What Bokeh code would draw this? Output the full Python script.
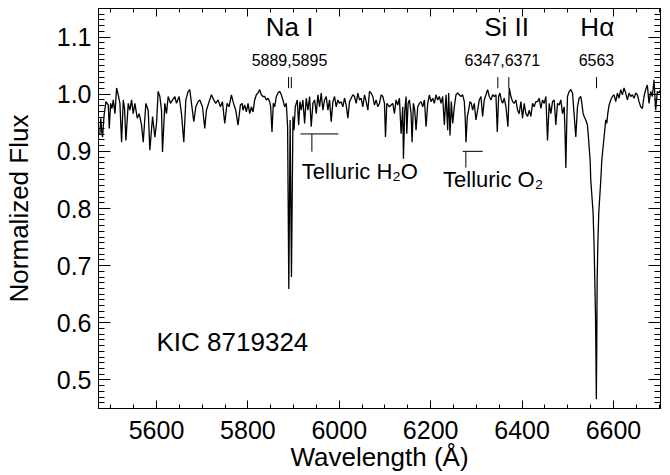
from bokeh.plotting import figure
from bokeh.models import Range1d, LinearAxis, FixedTicker, CustomJSTickFormatter, Label, PrintfTickFormatter
from bokeh.embed import file_html
from bokeh.resources import INLINE

# ---------------- data ----------------
wavelength = [
    5476.0, 5478.0, 5480.0, 5482.0, 5484.9, 5489.3, 5494.4, 5496.6, 5499.5, 5502.4,
    5505.3, 5509.0, 5512.6, 5516.2, 5519.9, 5523.5, 5527.2, 5530.0, 5533.0, 5538.1,
    5541.7, 5545.4, 5549.0, 5552.7, 5557.8, 5562.1, 5567.2, 5570.9, 5576.7, 5581.8,
    5585.4, 5591.3, 5596.4, 5600.0, 5603.6, 5607.3, 5610.9, 5613.1, 5618.2, 5621.8,
    5625.5, 5630.6, 5635.0, 5640.0, 5643.7, 5649.5, 5654.6, 5659.7, 5664.1, 5669.2,
    5672.8, 5676.5, 5681.6, 5686.0, 5691.0, 5694.7, 5700.5, 5705.6, 5709.2, 5715.1,
    5720.2, 5725.3, 5729.6, 5734.7, 5739.8, 5744.2, 5749.3, 5754.4, 5758.8, 5763.9,
    5767.5, 5773.3, 5778.4, 5783.5, 5787.5, 5789.3, 5793.0, 5796.6, 5800.3, 5803.9,
    5807.6, 5811.2, 5814.8, 5818.5, 5822.1, 5825.8, 5829.4, 5833.0, 5836.7, 5840.3,
    5844.0, 5847.6, 5849.8, 5852.7, 5855.6, 5858.5, 5862.2, 5865.8, 5869.5, 5873.1,
    5876.7, 5880.4, 5884.0, 5886.9, 5889.5, 5892.4, 5895.3, 5898.6, 5900.8, 5903.7,
    5908.1, 5911.0, 5913.9, 5916.8, 5920.4, 5924.1, 5927.7, 5931.4, 5935.0, 5938.6,
    5942.3, 5945.9, 5949.6, 5953.2, 5956.9, 5960.5, 5964.1, 5967.8, 5971.4, 5975.1,
    5978.7, 5982.3, 5986.0, 5989.6, 5993.3, 5996.9, 6000.5, 6004.2, 6007.8, 6011.5,
    6015.1, 6018.8, 6022.4, 6026.0, 6029.7, 6033.3, 6037.0, 6040.6, 6044.2, 6047.9,
    6051.5, 6055.2, 6058.8, 6062.5, 6066.1, 6069.7, 6073.4, 6077.0, 6080.7, 6084.3,
    6087.9, 6091.6, 6095.2, 6098.9, 6101.1, 6104.0, 6109.8, 6113.4, 6117.1, 6120.7,
    6124.3, 6128.0, 6131.6, 6135.3, 6138.9, 6140.4, 6143.3, 6146.2, 6147.7, 6150.6,
    6153.5, 6157.1, 6159.3, 6162.2, 6165.1, 6168.0, 6171.7, 6175.3, 6179.0, 6182.6,
    6186.3, 6189.9, 6193.5, 6197.2, 6200.8, 6204.5, 6208.1, 6211.7, 6215.4, 6219.0,
    6222.7, 6226.3, 6229.9, 6233.6, 6237.2, 6239.4, 6242.3, 6245.2, 6248.2, 6251.8,
    6255.4, 6259.1, 6262.7, 6266.4, 6270.0, 6273.6, 6275.8, 6277.3, 6280.2, 6283.1,
    6286.0, 6289.0, 6291.9, 6295.5, 6299.1, 6302.8, 6306.4, 6310.1, 6313.7, 6317.3,
    6321.0, 6324.6, 6328.3, 6331.9, 6335.6, 6339.2, 6342.8, 6345.8, 6348.7, 6351.6,
    6354.5, 6357.4, 6361.0, 6364.7, 6369.1, 6372.0, 6375.6, 6379.3, 6382.9, 6386.5,
    6390.2, 6393.8, 6397.5, 6401.1, 6404.7, 6408.4, 6412.0, 6415.7, 6419.3, 6423.0,
    6426.6, 6430.2, 6433.9, 6437.5, 6441.2, 6444.8, 6448.5, 6452.1, 6455.7, 6459.4,
    6463.0, 6466.7, 6470.3, 6473.9, 6477.6, 6481.2, 6484.9, 6488.5, 6492.2, 6494.3,
    6495.8, 6498.0, 6499.4, 6503.1, 6506.7, 6510.4, 6514.0, 6517.6, 6521.3, 6524.9,
    6528.6, 6530.8, 6533.7, 6535.9, 6539.5, 6543.1, 6545.3, 6546.8, 6549.0, 6550.4,
    6555.5, 6557.7, 6559.2, 6560.7, 6561.5, 6562.6, 6563.5, 6563.9, 6564.4, 6565.7,
    6567.9, 6572.3, 6574.5, 6577.4, 6581.0, 6583.2, 6585.4, 6587.6, 6590.5, 6594.1,
    6597.8, 6601.4, 6605.0, 6608.7, 6612.3, 6616.0, 6619.6, 6623.2, 6626.9, 6630.5,
    6634.2, 6637.8, 6641.5, 6645.1, 6648.7, 6652.4, 6656.0, 6659.7, 6663.3, 6666.9,
    6670.6, 6674.2, 6677.9, 6681.5, 6685.1, 6688.8, 6692.4, 6696.1, 6699.7, 6703.0,
]
flux = [
    0.930, 0.958, 0.935, 0.925, 0.961, 0.987, 0.981, 0.940, 0.984, 0.975,
    0.990, 0.966, 1.011, 0.999, 0.984, 0.916, 0.990, 0.975, 0.919, 0.984,
    0.972, 0.990, 0.966, 0.984, 0.958, 0.966, 0.946, 0.916, 0.984, 0.972,
    0.902, 0.961, 0.925, 0.949, 1.005, 0.996, 0.972, 0.899, 0.984, 0.966,
    0.996, 0.984, 0.990, 0.996, 0.984, 0.996, 0.966, 0.916, 0.990, 1.005,
    1.008, 0.984, 0.952, 0.978, 0.987, 0.990, 0.978, 0.940, 0.972, 0.987,
    0.999, 0.990, 0.984, 0.990, 0.978, 0.987, 0.949, 0.984, 0.978, 0.999,
    0.987, 0.972, 0.946, 0.981, 0.984, 0.972, 0.981, 0.969, 0.984, 0.966,
    0.978, 0.969, 0.990, 0.999, 1.002, 1.008, 0.999, 0.996, 0.996, 0.990,
    0.993, 0.987, 0.978, 0.934, 0.984, 0.978, 0.996, 1.002, 1.005, 0.999,
    0.990, 0.978, 0.984, 0.943, 0.659, 0.955, 0.680, 0.961, 0.937, 0.978,
    0.990, 0.946, 0.987, 0.972, 0.990, 0.949, 0.993, 0.972, 0.996, 0.943,
    0.984, 0.990, 0.966, 0.999, 0.978, 1.002, 0.972, 0.990, 0.996, 0.972,
    0.990, 0.952, 0.987, 0.996, 0.978, 0.990, 0.984, 0.987, 0.978, 0.993,
    0.981, 0.958, 0.987, 0.993, 0.999, 0.996, 0.984, 1.002, 0.990, 0.993,
    0.978, 0.999, 0.987, 0.972, 1.005, 1.002, 0.996, 0.981, 0.990, 0.978,
    0.984, 0.999, 0.996, 0.984, 0.925, 0.984, 0.978, 0.981, 0.984, 0.966,
    0.990, 0.981, 0.993, 0.931, 0.978, 0.887, 0.972, 0.996, 0.931, 0.984,
    0.990, 0.966, 0.916, 0.984, 0.972, 0.937, 0.978, 0.984, 0.987, 0.978,
    0.990, 0.943, 0.984, 0.999, 0.987, 0.993, 0.984, 0.999, 0.990, 0.996,
    0.984, 0.996, 0.946, 0.999, 0.937, 1.002, 0.928, 0.987, 0.949, 0.978,
    0.999, 1.002, 0.999, 0.996, 0.999, 0.987, 0.955, 0.916, 0.961, 0.972,
    0.987, 0.984, 0.972, 0.984, 0.955, 0.972, 0.990, 0.996, 0.961, 0.990,
    0.999, 1.008, 0.996, 0.990, 0.999, 0.996, 0.999, 0.934, 0.996, 1.002,
    0.990, 0.984, 0.993, 0.978, 0.943, 1.011, 0.996, 0.987, 0.984, 0.990,
    0.972, 0.966, 0.987, 0.958, 0.984, 0.966, 0.961, 0.972, 0.961, 0.984,
    0.978, 0.987, 0.987, 0.993, 0.975, 0.990, 0.984, 0.996, 0.919, 0.984,
    0.966, 0.987, 0.990, 0.946, 0.984, 0.981, 0.990, 0.966, 0.978, 0.925,
    0.871, 0.955, 0.996, 1.005, 1.008, 1.002, 0.964, 0.925, 0.978, 0.993,
    0.996, 0.984, 0.966, 0.961, 0.955, 0.946, 0.925, 0.908, 0.884, 0.850,
    0.792, 0.733, 0.675, 0.617, 0.558, 0.466, 0.558, 0.617, 0.675, 0.733,
    0.792, 0.850, 0.884, 0.908, 0.937, 0.955, 0.949, 0.966, 0.981, 0.990,
    0.996, 0.999, 0.987, 1.002, 0.993, 1.008, 0.999, 1.011, 1.002, 0.990,
    1.002, 0.996, 0.999, 0.993, 1.002, 0.999, 0.987, 0.978, 0.975, 0.996,
    1.008, 1.016, 0.984, 1.005, 0.996, 1.025, 0.972, 1.005, 1.002, 1.008,
]

x_ticks = [5600, 5800, 6000, 6200, 6400, 6600]
y_ticks = [0.5, 0.6, 0.7, 0.8, 0.9, 1.0, 1.1]

line_names = ["Na I", "Si II", "H\u03b1"]
line_label_x = [5891.4, 6366.0, 6564.6]
line_wl_text = ["5889,5895", "6347,6371", "6563"]
line_wl_text_x = [5891.0, 6357.0, 6562.8]
line_marks = [5889, 5895, 6347, 6371, 6563]

object_name = "KIC 8719324"

# ---------------- figure ----------------
FONT = "Liberation Sans"
X_MIN, X_MAX = 5473, 6703
Y_MIN, Y_MAX = 0.45, 1.15

p = figure(width=670, height=475,
           x_range=Range1d(X_MIN, X_MAX), y_range=Range1d(Y_MIN, Y_MAX),
           output_backend="svg", toolbar_location=None,
           min_border_left=97, min_border_right=10,
           min_border_top=8, min_border_bottom=67)
p.xgrid.visible = False
p.ygrid.visible = False
p.outline_line_color = "black"
p.outline_line_width = 1
p.background_fill_color = "white"
p.border_fill_color = "white"

x_minor = list(range(5500, 6701, 50))
y_minor = [round(0.45 + 0.01 * i, 2) for i in range(71)]


def style_axis(ax, major_in, minor_in):
    ax.axis_line_color = "black"
    ax.axis_line_width = 1
    ax.major_tick_line_color = "black"
    ax.minor_tick_line_color = "black"
    ax.major_tick_in = major_in
    ax.major_tick_out = 0
    ax.minor_tick_in = minor_in
    ax.minor_tick_out = 0
    ax.major_label_text_font = FONT
    ax.major_label_text_color = "black"
    ax.axis_label_text_font = FONT
    ax.axis_label_text_font_style = "normal"
    ax.axis_label_text_color = "black"


xa = p.xaxis[0]
xa.ticker = FixedTicker(ticks=x_ticks, minor_ticks=x_minor)
style_axis(xa, 8, 4)
xa.major_label_text_font_size = "25px"
xa.major_label_standoff = 12
xa.axis_label = "Wavelength (\u00c5)"
xa.axis_label_text_font_size = "26px"
xa.axis_label_standoff = 0

ya = p.yaxis[0]
ya.ticker = FixedTicker(ticks=y_ticks, minor_ticks=y_minor)
ya.formatter = PrintfTickFormatter(format="%.1f")
style_axis(ya, 12, 6)
ya.major_label_text_font_size = "25px"
ya.major_label_standoff = 7
ya.axis_label = "Normalized Flux"
ya.axis_label_text_font_size = "26px"
ya.axis_label_standoff = 20

blank = CustomJSTickFormatter(code="return ''")
top = LinearAxis(ticker=FixedTicker(ticks=x_ticks, minor_ticks=x_minor), formatter=blank)
style_axis(top, 8, 4)
top.major_label_text_font_size = "1px"
top.major_label_standoff = 0
p.add_layout(top, "above")

right = LinearAxis(ticker=FixedTicker(ticks=y_ticks, minor_ticks=y_minor), formatter=blank)
style_axis(right, 12, 6)
right.major_label_text_font_size = "1px"
right.major_label_standoff = 0
p.add_layout(right, "right")

# spectrum
p.line(wavelength, flux, line_color="black", line_width=1.3)

# line identification marks
p.segment(x0=line_marks, y0=[1.0105] * len(line_marks),
          x1=line_marks, y1=[1.030] * len(line_marks),
          line_color="black", line_width=1)


def add_text(x, y, text, size, align):
    p.add_layout(Label(x=x, y=y, text=text, text_font=FONT,
                       text_font_size=size, text_align=align,
                       text_baseline="middle", text_color="black"))


for name, xn in zip(line_names, line_label_x):
    add_text(xn, 1.1169, name, "26px", "center")
for t, xt in zip(line_wl_text, line_wl_text_x):
    add_text(xt, 1.0595, t, "16px", "center")

# telluric bands
p.segment(x0=[5915, 5940, 6270, 6277], y0=[0.9305, 0.9305, 0.900, 0.900],
          x1=[5998, 5940, 6314, 6277], y1=[0.9305, 0.8995, 0.900, 0.8716],
          line_color="black", line_width=1)
add_text(5918, 0.8646, "Telluric H\u2082O", "22px", "left")
add_text(6227, 0.8514, "Telluric O\u2082", "22px", "left")

add_text(5600, 0.5662, object_name, "26px", "left")

open("out.html", "w").write(file_html(p, INLINE))
